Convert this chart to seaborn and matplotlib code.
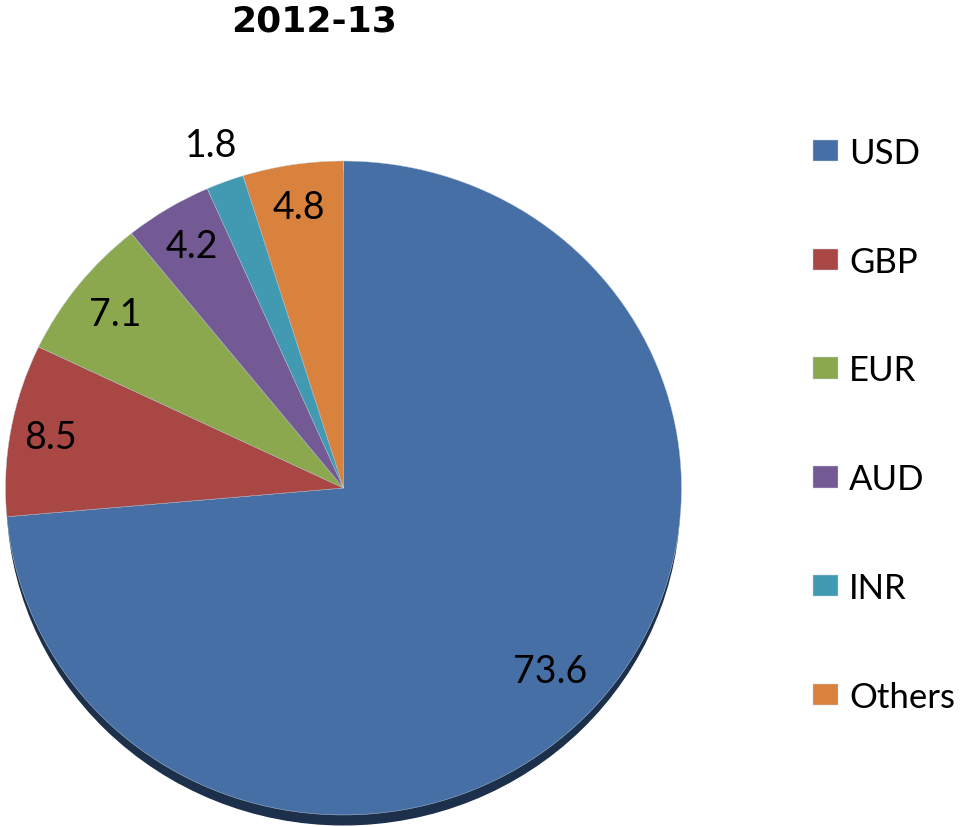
import matplotlib.pyplot as plt
import seaborn as sns
import numpy as np
from matplotlib.patches import Ellipse

# 통화별 비중 (2012-13)
currencies = ["USD", "GBP", "EUR", "AUD", "INR", "Others"]
shares = [73.6, 8.5, 7.1, 4.2, 1.8, 4.8]
share_labels = ["73.6", "8.5", "7.1", "4.2", "1.8", "4.8"]
title = "2012-13"

colors = ["#4670A5", "#A94744", "#8BA84F", "#735A94", "#419AB1", "#D9823E"]

sns.set_theme(style="white")
plt.rcParams["font.family"] = ["Lato", "DejaVu Sans"]
plt.rcParams["text.color"] = "black"

W, H = 966, 828
fig = plt.figure(figsize=(W / 100, H / 100), dpi=100)

# pie 위치 (픽셀 기준)
cx, cy, rx, ry = 343.5, 489, 338, 327
pad = 1.06
ax = fig.add_axes([(cx - rx * pad) / W, (H - cy - ry * pad) / H,
                   2 * rx * pad / W, 2 * ry * pad / H])

# 아래쪽 그림자
ax.add_patch(Ellipse((0, -0.03), 1.99, 2, color="#1c2f4b", zorder=0))

wedges, _ = ax.pie(shares, colors=colors, startangle=90, counterclock=False,
                   wedgeprops=dict(edgecolor="#c9d3de", linewidth=0.3, zorder=1))
ax.set_aspect("auto")
ax.set_xlim(-pad, pad)
ax.set_ylim(-pad, pad)
ax.axis("off")

# 값 라벨
dist = [0.83, 0.88, 0.86, 0.865, 1.12, 0.87]
for w, lab, d in zip(wedges, share_labels, dist):
    ang = np.deg2rad((w.theta1 + w.theta2) / 2)
    ax.text(d * np.cos(ang), d * np.sin(ang), lab, ha="center", va="center",
            fontsize=27, color="black", zorder=3)

fig.text(314 / W, 1 - 32 / H, title, ha="center", va="baseline",
         fontsize=26, fontweight="bold", color="black", family=["DejaVu Sans"])

fs = 25
fig.legend(wedges, currencies, loc="upper left",
           bbox_to_anchor=(813 / W, 1 - 138 / H), frameon=False,
           fontsize=fs, borderpad=0, borderaxespad=0,
           handlelength=25 / (fs * 100 / 72), handleheight=20 / (fs * 100 / 72),
           handletextpad=0.32, labelspacing=2.21, labelcolor="black")

plt.savefig("out.png", dpi=100)
